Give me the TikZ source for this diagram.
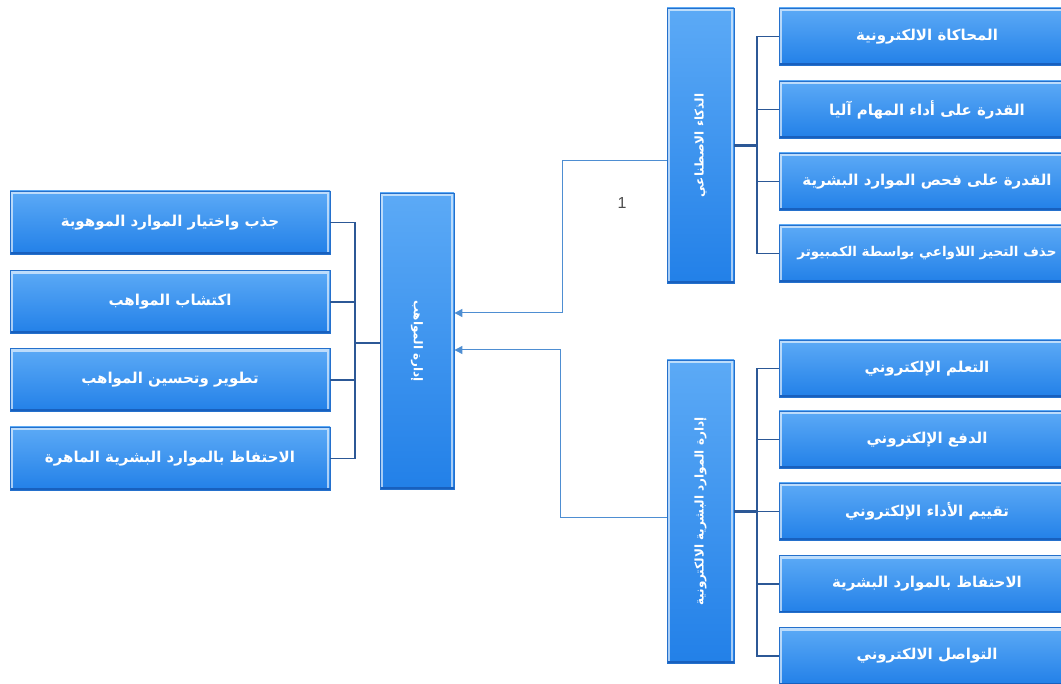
\documentclass[tikz,border=0pt]{standalone}
\usepackage{fontspec}
\usepackage{graphicx}
\setmainfont{Liberation Sans}
\newfontfamily\arabicfont[Script=Arabic]{DejaVu Sans}
\TeXXeTstate=1
\usetikzlibrary{arrows.meta}
\definecolor{boxtop}{RGB}{92,170,246}
\definecolor{boxbot}{RGB}{34,128,232}
\definecolor{boxedge}{RGB}{36,112,204}
\definecolor{boxdark}{RGB}{24,96,190}
\definecolor{brk}{RGB}{44,88,150}
\definecolor{arr}{RGB}{78,142,210}
\tikzset{
  box/.style={draw=boxedge, line width=0.8pt, top color=boxtop, bottom color=boxbot,
    inner sep=0pt, text=white, font=\arabicfont\bfseries\fontsize{15}{17}\selectfont,
    path picture={
      \draw[white, opacity=0.6, line width=2.2pt]
        ([shift={(2pt,2pt)}]path picture bounding box.south west) --
        ([shift={(2pt,-2pt)}]path picture bounding box.north west) --
        ([shift={(-2pt,-2pt)}]path picture bounding box.north east) --
        ([shift={(-2pt,2pt)}]path picture bounding box.south east);
      \draw[boxdark, line width=2pt]
        ([shift={(0pt,1pt)}]path picture bounding box.south west) --
        ([shift={(0pt,1pt)}]path picture bounding box.south east);}},
  lbox/.style={box, minimum width=320pt, minimum height=63pt},
  rbox/.style={box, minimum width=296pt, minimum height=57pt},
  vbox/.style={box, font=\arabicfont\bfseries\fontsize{12}{14}\selectfont},
  brline/.style={draw=brk, line width=1.1pt},
  brthick/.style={draw=brk, line width=2.2pt},
  conn/.style={draw=arr, line width=1pt, -{Triangle[length=8pt,width=8pt]}},
}
\begin{document}
\begin{tikzpicture}[x=1pt,y=-1pt]
\useasboundingbox (0,0) rectangle (1061,684);
\clip (0,0) rectangle (1061,684);
% left boxes
\node[lbox] (l1) at (170,222.5) {\beginR جذب واختيار الموارد الموهوبة\endR};
\node[lbox] (l2) at (170,302) {\beginR اكتشاب المواهب\endR};
\node[lbox] (l3) at (170,380) {\beginR تطوير وتحسين المواهب\endR};
\node[lbox] (l4) at (170,458.5) {\beginR الاحتفاظ بالموارد البشرية الماهرة\endR};
% center
\node[vbox, minimum width=74pt, minimum height=296pt] (c) at (417,341) {\rotatebox{-90}{\beginR إدارة المواهب\endR}};
% AI box
\node[vbox, minimum width=67pt, minimum height=275pt] (ai) at (700.5,145.5) {\rotatebox{90}{\beginR الذكاء الاصطناعي\endR}};
% HR box
\node[vbox, minimum width=67pt, minimum height=303pt] (hr) at (700.5,511.5) {\rotatebox{90}{\beginR إدارة الموارد البشرية الالكترونية\endR}};
% right top
\node[rbox] (a1) at (927,36.5) {\beginR المحاكاة الالكترونية\endR};
\node[rbox] (a2) at (927,109.5) {\beginR القدرة على أداء المهام آليا\endR};
\node[rbox] (a3) at (927,181.5) {\beginR القدرة على فحص الموارد البشرية\endR};
\node[rbox, font=\arabicfont\bfseries\fontsize{13.5}{16}\selectfont] (a4) at (927,253.5) {\beginR حذف التحيز اللاواعي بواسطة الكمبيوتر\endR\hspace{12pt}};
% right bottom
\node[rbox] (b1) at (927,368.5) {\beginR التعلم الإلكتروني\endR};
\node[rbox] (b2) at (927,439.5) {\beginR الدفع الإلكتروني\endR};
\node[rbox] (b3) at (927,511.5) {\beginR تقييم الأداء الإلكتروني\endR};
\node[rbox] (b4) at (927,584) {\beginR الاحتفاظ بالموارد البشرية\endR};
\node[rbox] (b5) at (927,656) {\beginR التواصل الالكتروني\endR};
% label
\node[text=black!70, font=\fontsize{16}{18}\selectfont] (one) at (622,203) {1};
% brackets
\coordinate (lx) at (355,0);
\coordinate (rx) at (757,0);
\draw[brline] (l1.east) -- (l1.east -| lx) -- (l4.east -| lx) -- (l4.east);
\draw[brline] (l2.east) -- (l2.east -| lx);
\draw[brline] (l3.east) -- (l3.east -| lx);
\draw[brthick] ([yshift=-2pt]c.west -| lx) -- ([yshift=-2pt]c.west);
\draw[brline] (a1.west) -- (a1.west -| rx) -- (a4.west -| rx) -- (a4.west);
\draw[brline] (a2.west) -- (a2.west -| rx);
\draw[brline] (a3.west) -- (a3.west -| rx);
\draw[brthick] (ai.east) -- (ai.east -| rx);
\draw[brline] (b1.west) -- (b1.west -| rx) -- (b5.west -| rx) -- (b5.west);
\draw[brline] (b2.west) -- (b2.west -| rx);
\draw[brline] (b3.west) -- (b3.west -| rx);
\draw[brline] (b4.west) -- (b4.west -| rx);
\draw[brthick] (hr.east) -- (hr.east -| rx);
% connectors
\coordinate (tA) at (562,313);
\coordinate (tB) at (560,350);
\draw[conn] ([yshift=-15.5pt]ai.west) -| (tA) -- (tA -| c.east);
\draw[conn] ([yshift=-6.5pt]hr.west) -| (tB) -- (tB -| c.east);
\end{tikzpicture}
\end{document}
